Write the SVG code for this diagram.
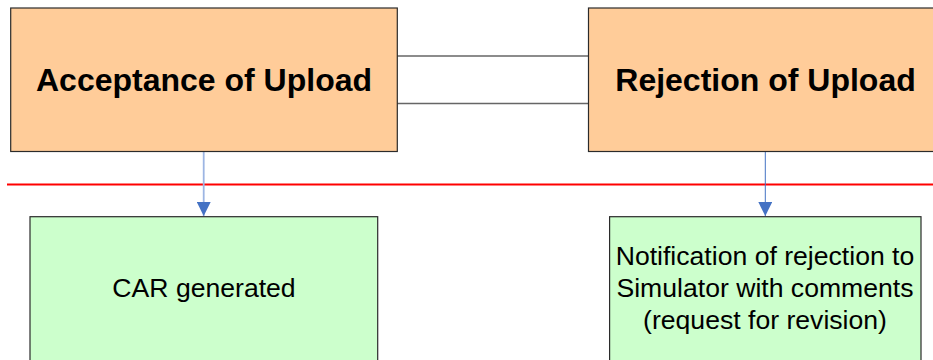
<svg xmlns="http://www.w3.org/2000/svg" width="933" height="360" viewBox="0 0 933 360">
<style>
.orange{fill:#FFCC99;stroke:#2b2b2b;stroke-width:1.2}
.green{fill:#CCFFCC;stroke:#2b2b2b;stroke-width:1.2}
.title{font-family:"Liberation Sans",Arial,sans-serif;font-weight:bold;font-size:32px;fill:#000;text-anchor:middle}
.body{font-family:"Liberation Sans",Arial,sans-serif;font-size:26.6px;fill:#000;text-anchor:middle}
.link{stroke:#666;stroke-width:1.5;fill:none}
</style>
<defs>
<marker id="ah" markerWidth="14" markerHeight="14" viewBox="0 0 14 14" refX="14" refY="7" orient="auto" markerUnits="userSpaceOnUse">
<path d="M0,0 L14,7 L0,14 Z" fill="#4472C4"/>
</marker>
</defs>
<rect width="933" height="360" fill="#fff"/>
<line x1="7" y1="184.5" x2="933" y2="184.5" stroke="#FF0000" stroke-width="2"/>
<g id="connectors">
<line class="link" x1="397" y1="56" x2="588.5" y2="56"/>
<line class="link" x1="397" y1="103.5" x2="588.5" y2="103.5"/>
<line x1="203.7" y1="151.5" x2="203.7" y2="216" stroke="#9DB5E3" stroke-width="1.8" marker-end="url(#ah)"/>
<line x1="765.3" y1="151.5" x2="765.3" y2="216" stroke="#4472C4" stroke-width="1" marker-end="url(#ah)"/>
</g>
<g id="acceptance">
<rect class="orange" x="10.7" y="8" width="386.6" height="143.5"/>
<text class="title" x="204" y="91">Acceptance of Upload</text>
</g>
<g id="rejection">
<rect class="orange" x="588.5" y="8" width="360" height="143.5"/>
<text class="title" x="765.5" y="91">Rejection of Upload</text>
</g>
<g id="car">
<rect class="green" x="30" y="216.7" width="347.7" height="160"/>
<text class="body" x="204" y="297">CAR generated</text>
</g>
<g id="notification">
<rect class="green" x="609.6" y="216.7" width="311.4" height="160"/>
<text class="body" x="765" y="264.5">Notification of rejection to</text>
<text class="body" x="765" y="296.5">Simulator with comments</text>
<text class="body" x="765" y="328.5">(request for revision)</text>
</g>
</svg>
